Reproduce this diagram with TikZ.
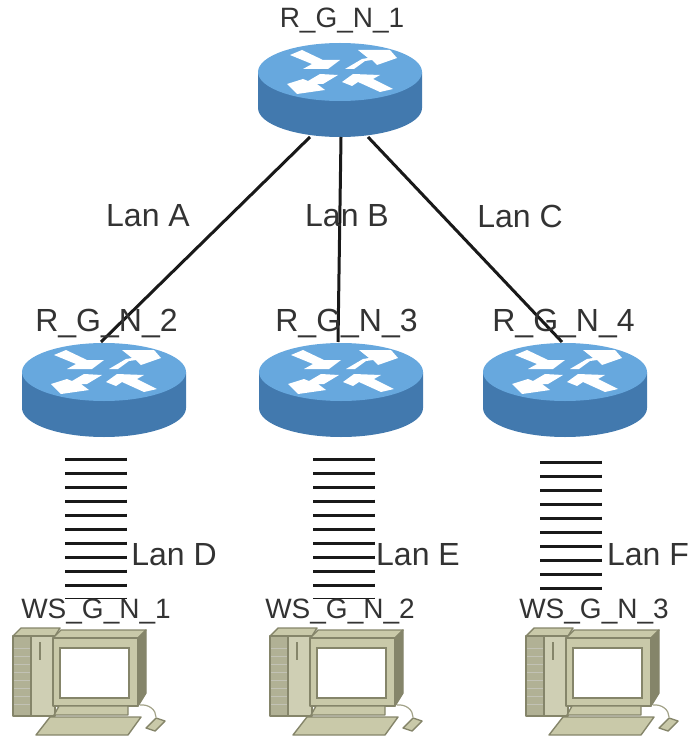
\documentclass[tikz,border=0pt]{standalone}
\usepackage{fontspec}
\setmainfont{Liberation Sans}
\usetikzlibrary{calc}
\definecolor{routertop}{HTML}{67A8DE}
\definecolor{routerside}{HTML}{4279AE}
\definecolor{wsbody}{HTML}{C9C9A9}
\definecolor{wslight}{HTML}{CFCFB4}
\definecolor{wsdark}{HTML}{85856A}
\tikzset{
  label text/.style={font=\fontsize{28}{30}\selectfont, text=black!80, inner sep=0pt},
  lan text/.style={label text, font=\fontsize{32}{34}\selectfont},
  wan link/.style={line width=3pt, black!90},
  lan link/.style={line width=62pt, black!90, dash pattern=on 3pt off 11pt},
  ws part/.style={fill=wsbody, draw=wsdark, line width=1.4pt, line join=round},
  router/.pic={
    \fill[routerside] (-82,0) -- (-82,36) arc[start angle=180, end angle=0, x radius=82, y radius=29] -- (82,0) -- cycle;
    \fill[routertop] (0,0) ellipse[x radius=82, y radius=29];
    \fill[white] (-50,-17) -- (-38,-22) -- (-17,-12) -- (0,-12) -- (-12,-3) -- (-37,-3) -- (-28,-8) -- cycle;
    \fill[white] (5,-3) -- (22,-13) -- (28,-14) -- (18,-22) -- (50,-22) -- (57,-14) -- (37,-7) -- (32,-12) -- (25,-11) -- (14,-3) -- cycle;
    \fill[white] (-53,12) -- (-37,7) -- (-32,9) -- (-20,2) -- (-2,3) -- (-17,12) -- (-23,12) -- (-15,18) -- (-43,22) -- cycle;
    \fill[white] (2,10) -- (13,2) -- (40,3) -- (33,7) -- (53,17) -- (40,20) -- (18,10) -- (12,14) -- cycle;
    \coordinate (-top) at (-3,-30);
    \coordinate (-left) at (-30,65);
    \coordinate (-mid) at (1,65);
    \coordinate (-right) at (28,65);
  },
  workstation/.pic={
    % tower
    \filldraw[ws part] (0,8) -- (8,0) -- (47,0) -- (42,8) -- cycle;
    \filldraw[ws part, fill=wsbody!88!black] (0,8) rectangle (18,88);
    \filldraw[ws part, fill=wslight] (18,8) rectangle (42,88);
    \draw[wsdark, line width=1.4pt] (27,14) -- (27,32);
    \foreach \y in {20,28,36,44,52,60,68,76}
      \draw[wsdark!50, line width=.8pt] (1,\y) -- (17,\y);
    % monitor
    \filldraw[ws part] (40,10) -- (48,2) -- (133,2) -- (125,10) -- cycle;
    \filldraw[ws part, fill=wsdark] (125,10) -- (133,2) -- (133,65) -- (125,78) -- cycle;
    \filldraw[ws part] (40,10) rectangle (125,78);
    \filldraw[draw=wsdark, fill=white, line width=1.8pt] (47,20) rectangle (116,70);
    % stand and keyboard
    \filldraw[ws part] (46,78) -- (115,78) -- (115,87) -- (41,87) -- cycle;
    \filldraw[ws part] (37,89) -- (128,89) -- (115,107) -- (23,107) -- cycle;
    % mouse
    \draw[wsbody!80!black, line width=1.2pt] (127,77) .. controls (136,76) and (143,82) .. (143,89);
    \filldraw[ws part] (133,100) -- (143,90) -- (152,93) -- (142,103) -- cycle;
  }
}
\begin{document}
\begin{tikzpicture}[x=1pt, y=-1pt]
  \useasboundingbox (0,0) rectangle (689,738);
  \path (340,72) coordinate (r1pos) (104,372) coordinate (r2pos)
        (341,372) coordinate (r3pos) (565,372) coordinate (r4pos);

  \pic (r1) at (r1pos) {router};
  \path (r2pos) pic (r2) {router} (r3pos) pic (r3) {router} (r4pos) pic (r4) {router};
  \pic (ws1) at (13,628) {workstation};
  \pic (ws2) at (270,628) {workstation};
  \pic (ws3) at (526,628) {workstation};

  \coordinate (lanD-a) at (96,457.5);
  \coordinate (lanD-b) at (96,599);
  \coordinate (lanE-a) at (344,457.5);
  \coordinate (lanE-b) at (344,599);
  \coordinate (lanF-a) at (570.5,460.5);
  \coordinate (lanF-b) at (570.5,599);

  \draw[wan link] (r1-left) -- (r2-top);
  \draw[wan link] (r1-mid) -- (r3-top);
  \draw[wan link] (r1-right) -- (r4-top);
  \draw[lan link] (lanD-a) -- (lanD-b);
  \draw[lan link] (lanE-a) -- (lanE-b);
  \draw[lan link] (lanF-a) -- (lanF-b);

  \node[label text] (r1label) at (342,21) {R\_G\_N\_1};
  \node[lan text] (r2label) at (106.5,324) {R\_G\_N\_2};
  \node[lan text] (r3label) at (346.5,324) {R\_G\_N\_3};
  \node[lan text] (r4label) at (563.5,324) {R\_G\_N\_4};
  \node[label text] (ws1label) at (96,611) {WS\_G\_N\_1};
  \node[label text] (ws2label) at (340,611) {WS\_G\_N\_2};
  \node[label text] (ws3label) at (594,611) {WS\_G\_N\_3};
  \node[lan text] (lanA) at (148,216) {Lan A};
  \node[lan text] (lanB) at (347,216) {Lan B};
  \node[lan text] (lanC) at (520,216) {Lan C};
  \node[lan text] (lanDlabel) at (174,555) {Lan D};
  \node[lan text] (lanElabel) at (418,555) {Lan E};
  \node[lan text] (lanFlabel) at (648,555) {Lan F};
\end{tikzpicture}
\end{document}
